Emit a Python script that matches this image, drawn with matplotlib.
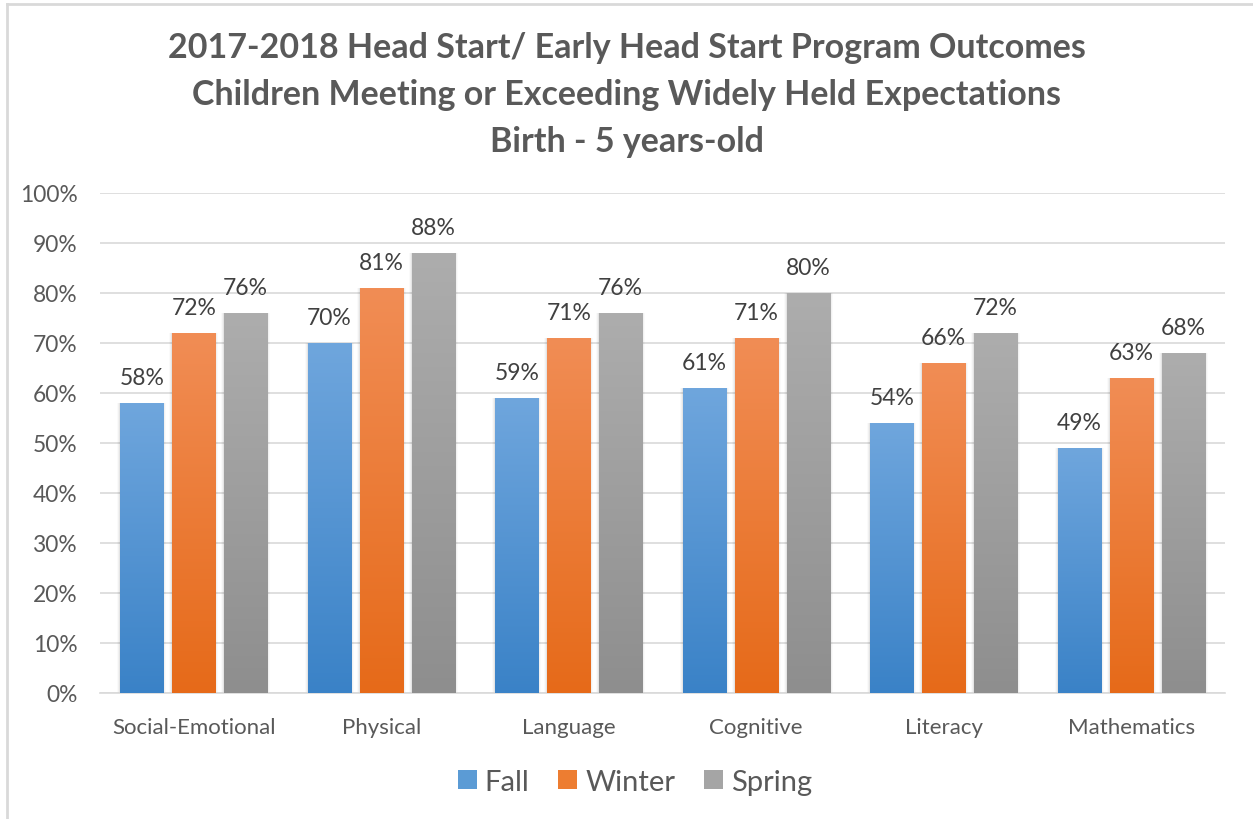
import matplotlib
matplotlib.use("Agg")
import matplotlib.pyplot as plt
import numpy as np
from matplotlib.colors import LinearSegmentedColormap
from matplotlib.patches import Patch
from matplotlib.ticker import MultipleLocator, PercentFormatter

categories = ["Social-Emotional", "Physical", "Language", "Cognitive", "Literacy", "Mathematics"]
fall = [58, 70, 59, 61, 54, 49]
winter = [72, 81, 71, 71, 66, 63]
spring = [76, 88, 76, 80, 72, 68]
series_names = ["Fall", "Winter", "Spring"]
title = ("2017-2018 Head Start/ Early Head Start Program Outcomes\n"
         "Children Meeting or Exceeding Widely Held Expectations\n"
         "Birth - 5 years-old")

grads = [("#6FA6DD", "#3A82C7"), ("#F18D55", "#E66A19"), ("#ADADAD", "#8E8E8E")]
mids = ["#5B9BD5", "#ED7D31", "#A5A5A5"]
text_color = "#595959"

plt.rcParams["font.family"] = ["Lato", "DejaVu Sans"]

fig = plt.figure(figsize=(12.53, 8.2), dpi=100)
ax = fig.add_axes([100/1253, 1 - 694/820, 1125/1253, 500/820])

x = np.arange(len(categories))
width = 0.23
step = 0.277
data = [fall, winter, spring]
ax.set_xlim(-0.5, len(categories) - 0.5)
ax.set_ylim(0, 100)

for i, (vals, name) in enumerate(zip(data, series_names)):
    bars = ax.bar(x + (i - 1) * step, vals, width, color=mids[i], label=name, zorder=3)
    cmap = LinearSegmentedColormap.from_list("g%d" % i, [grads[i][1], grads[i][0]])
    for b, v in zip(bars, vals):
        x0, y0 = b.get_x(), b.get_y()
        w, h = b.get_width(), b.get_height()
        # soft shadow on the sides
        for k, a in enumerate([0.05, 0.035, 0.02]):
            ax.add_patch(plt.Rectangle((x0 - 0.005 * (k + 1), y0), w + 0.010 * (k + 1), h,
                                       color="#000000", alpha=a, lw=0, zorder=2))
        grad = np.linspace(0, 1, 256).reshape(-1, 1)
        im = ax.imshow(grad, extent=(x0, x0 + w, y0, y0 + h), origin="lower",
                       cmap=cmap, aspect="auto", zorder=4)
        im.set_clip_path(b)
        ax.annotate(f"{v}%", (x0 + w / 2, h), xytext=(0, 11), textcoords="offset points",
                    ha="center", va="bottom", fontsize=16.5, color="#404040", zorder=5)

ax.set_xlim(-0.5, len(categories) - 0.5)
ax.set_ylim(0, 100)
ax.yaxis.set_major_locator(MultipleLocator(10))
ax.yaxis.set_major_formatter(PercentFormatter(decimals=0))
ax.set_xticks(x)
ax.set_xticklabels(categories)
ax.tick_params(axis="x", length=0, labelsize=16, colors=text_color, pad=17)
ax.tick_params(axis="y", length=0, labelsize=16.4, colors=text_color, pad=16)
ax.grid(axis="y", color="#D9D9D9", lw=1.2, zorder=0)
for s in ["top", "right", "left"]:
    ax.spines[s].set_visible(False)
ax.spines["bottom"].set_color("#D9D9D9")
ax.spines["bottom"].set_linewidth(1.2)

fig.text(0.5, 1 - 95/820, title, ha="center", va="center", fontsize=24.5,
         fontweight="bold", color=text_color, linespacing=1.56)

handles = [Patch(facecolor=mids[i], label=series_names[i]) for i in range(3)]
fig.legend(handles=handles, loc="center", bbox_to_anchor=(635/1253, 1 - 783/820), ncol=3,
           frameon=False, fontsize=21, labelcolor=text_color, handlelength=0.65,
           handleheight=0.65, handletextpad=0.27, columnspacing=1.0)

# chart border (left and top)
fig.add_artist(plt.Line2D([7/1253, 7/1253], [0, 1 - 5/820], transform=fig.transFigure,
                          color="#D9D9D9", lw=2))
fig.add_artist(plt.Line2D([7/1253, 1], [1 - 5/820, 1 - 5/820], transform=fig.transFigure,
                          color="#D9D9D9", lw=2))

fig.savefig("out.png", dpi=100)
